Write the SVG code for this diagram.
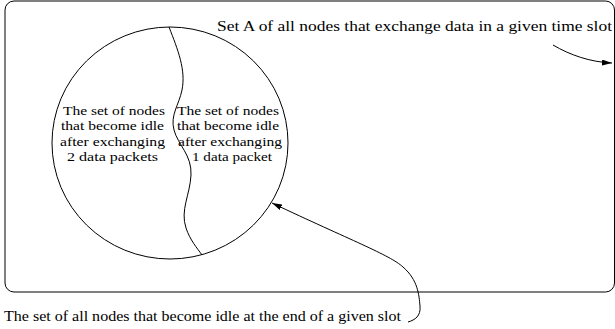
<svg xmlns="http://www.w3.org/2000/svg" width="615" height="329" viewBox="0 0 615 329">
<style>
text{font-family:"Liberation Serif","Times New Roman",serif;font-size:13.5px;fill:#000}
.l{font-size:14px}
.s{fill:none;stroke:#000;stroke-width:1}
</style>
<defs>
<marker id="ah" viewBox="0 0 10 6" refX="10" refY="3" markerWidth="10" markerHeight="6" markerUnits="userSpaceOnUse" orient="auto">
<path d="M0,0 L10,3 L0,6 z" fill="#000"/>
</marker>
</defs>
<rect width="615" height="329" fill="#fff"/>
<g id="setA">
<rect class="s" x="5" y="1" width="609.5" height="291" rx="9"/>
<text class="l" x="217" y="31" textLength="395" lengthAdjust="spacingAndGlyphs">Set A of all nodes that exchange data in a given time slot</text>
</g>
<g id="idleSet">
<ellipse class="s" cx="170" cy="143" rx="118" ry="116"/>
<path class="s" d="M169,27 C178,50 186,70 182,90 C179,105 170,115 174,130 C178,145 192,155 191,175 C190,195 180,210 186,228 C190,240 197,248 202,255"/>
</g>
<g id="twoPackets">
<text x="63" y="114.5" textLength="102" lengthAdjust="spacingAndGlyphs">The set of nodes</text>
<text x="61" y="130" textLength="103" lengthAdjust="spacingAndGlyphs">that become idle</text>
<text x="60" y="145.5" textLength="105" lengthAdjust="spacingAndGlyphs">after exchanging</text>
<text x="67" y="161" textLength="91" lengthAdjust="spacingAndGlyphs">2 data packets</text>
</g>
<g id="onePacket">
<text x="177" y="114.5" textLength="102" lengthAdjust="spacingAndGlyphs">The set of nodes</text>
<text x="177" y="130" textLength="102" lengthAdjust="spacingAndGlyphs">that become idle</text>
<text x="178" y="145.5" textLength="104" lengthAdjust="spacingAndGlyphs">after exchanging</text>
<text x="192" y="161" textLength="80" lengthAdjust="spacingAndGlyphs">1 data packet</text>
</g>
<g id="idleLabel">
<text class="l" x="4" y="321" textLength="397" lengthAdjust="spacingAndGlyphs">The set of all nodes that become idle at the end of a given slot</text>
</g>
<g id="connectors">
<path class="s" d="M553,45 C570,55 590,62 612,63" marker-end="url(#ah)"/>
<path class="s" d="M408,322 C415,320 421,316 420,306 C419,295 418,280 403,267 C390,255 350,240 272,203" marker-end="url(#ah)"/>
</g>
</svg>
